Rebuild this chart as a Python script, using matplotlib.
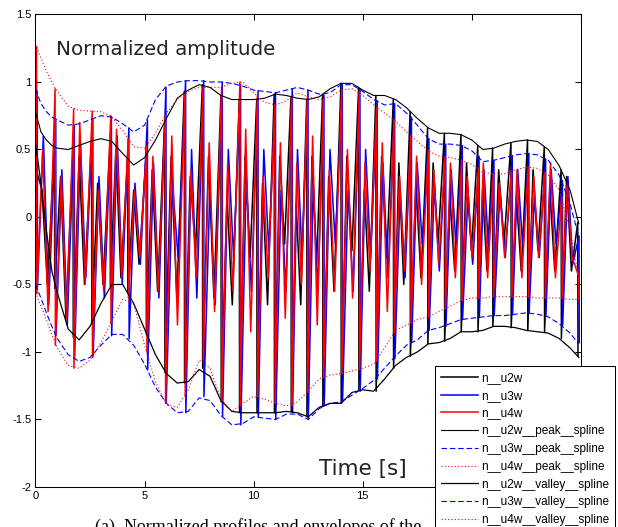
import matplotlib

matplotlib.use("Agg")
import matplotlib.pyplot as plt
from matplotlib.ticker import FixedFormatter

plt.rcParams["font.family"] = ["Liberation Sans", "DejaVu Sans"]
plt.rcParams["axes.unicode_minus"] = False

# time grid of the spline envelopes [s]
env_t = [
    0, 0.25, 0.5, 0.75, 1.0, 1.5, 2.0, 2.5, 3.0, 3.5, 4.0, 4.5, 5.0, 5.5,
    6.0, 6.5, 7.0, 7.5, 8.0, 8.5, 9.0, 9.5, 10.0, 10.5, 11.0, 11.5, 12.0,
    12.5, 13.0, 13.5, 14.0, 14.5, 15.0, 15.5, 16.0, 16.5, 17.0, 17.5, 18.0,
    18.5, 19.0, 19.5, 20.0, 20.5, 21.0, 21.5, 22.0, 22.5, 23.0, 23.5, 24.0,
    24.5, 24.9,
]

u2w_peak = [
    0.78, 0.63, 0.57, 0.53, 0.51, 0.50, 0.53, 0.56, 0.58, 0.56, 0.47, 0.385,
    0.44, 0.57, 0.73, 0.88, 0.94, 0.98, 0.96, 0.90, 0.87, 0.87, 0.87, 0.88,
    0.91, 0.90, 0.88, 0.87, 0.89, 0.95, 0.99, 0.99, 0.94, 0.90, 0.90, 0.87,
    0.81, 0.73, 0.66, 0.62, 0.62, 0.61, 0.57, 0.50, 0.51, 0.54, 0.56, 0.57,
    0.56, 0.50, 0.38, 0.20, -0.05,
]
u3w_peak = [
    0.95, 0.84, 0.78, 0.74, 0.72, 0.68, 0.69, 0.72, 0.75, 0.74, 0.69, 0.63,
    0.68, 0.87, 0.97, 1.00, 1.01, 1.01, 1.00, 1.00, 0.99, 0.97, 0.94, 0.93,
    0.92, 0.94, 0.96, 0.94, 0.91, 0.92, 0.98, 0.98, 0.93, 0.87, 0.83, 0.84,
    0.77, 0.68, 0.58, 0.54, 0.54, 0.53, 0.49, 0.41, 0.42, 0.44, 0.46, 0.47,
    0.46, 0.42, 0.31, 0.10, -0.15,
]
u4w_peak = [
    1.28, 1.18, 1.08, 1.00, 0.93, 0.82, 0.79, 0.785, 0.78, 0.74, 0.64, 0.52,
    0.51, 0.62, 0.77, 0.87, 0.93, 0.96, 0.96, 0.96, 0.99, 1.00, 0.92, 0.85,
    0.83, 0.86, 0.92, 0.89, 0.87, 0.89, 0.94, 0.95, 0.90, 0.83, 0.77, 0.71,
    0.63, 0.56, 0.49, 0.45, 0.44, 0.42, 0.39, 0.33, 0.32, 0.32, 0.35, 0.37,
    0.36, 0.31, 0.20, -0.10, -0.45,
]
u2w_valley = [
    0.55, 0.25, -0.10, -0.40, -0.56, -0.83, -0.91, -0.81, -0.64, -0.50, -0.50,
    -0.64, -0.83, -1.02, -1.16, -1.23, -1.22, -1.13, -1.18, -1.36, -1.44,
    -1.45, -1.45, -1.45, -1.45, -1.44, -1.45, -1.48, -1.41, -1.38, -1.38,
    -1.30, -1.28, -1.29, -1.20, -1.10, -1.04, -1.00, -0.94, -0.93, -0.90,
    -0.85, -0.85, -0.84, -0.81, -0.81, -0.82, -0.84, -0.85, -0.86, -0.90,
    -0.97, -1.04,
]
u3w_valley = [
    -0.50, -0.60, -0.71, -0.81, -0.90, -1.02, -1.07, -1.04, -0.95, -0.87,
    -0.87, -0.95, -1.09, -1.26, -1.38, -1.45, -1.44, -1.34, -1.36, -1.47,
    -1.54, -1.53, -1.48, -1.49, -1.50, -1.46, -1.46, -1.50, -1.42, -1.38,
    -1.37, -1.32, -1.27, -1.21, -1.12, -1.03, -0.95, -0.91, -0.84, -0.82,
    -0.79, -0.76, -0.75, -0.74, -0.73, -0.73, -0.72, -0.71, -0.72, -0.74,
    -0.79, -0.86, -0.94,
]
u4w_valley = [
    -0.56, -0.66, -0.76, -0.87, -0.97, -1.10, -1.12, -1.06, -0.93, -0.77,
    -0.61, -0.64, -0.95, -1.22, -1.39, -1.41, -1.28, -1.06, -1.12, -1.35,
    -1.44, -1.38, -1.33, -1.35, -1.38, -1.40, -1.37, -1.29, -1.20, -1.17,
    -1.16, -1.14, -1.12, -1.09, -0.97, -0.84, -0.80, -0.76, -0.74, -0.70,
    -0.66, -0.62, -0.60, -0.60, -0.59, -0.59, -0.59, -0.59, -0.60, -0.60,
    -0.60, -0.61, -0.61,
]

# times of the big oscillation spikes [s]
cycle_t = [
    0.05, 0.9, 1.75, 2.6, 3.45, 4.25, 5.1, 5.95, 6.85, 7.68, 8.53, 9.37,
    10.17, 10.97, 11.74, 12.46, 13.19, 14.03, 14.84, 15.63, 16.43, 17.2,
    18.0, 18.77, 19.53, 20.3, 20.98, 21.82, 22.58, 23.35, 24.12, 24.88,
]

# per cycle: top of spike, bottom of spike, inner high / low levels
u2w_top = [
    0.76, 0.52, 0.50, 0.57, 0.57, 0.43, 0.46, 0.71, 0.93, 0.98, 0.90, 0.87,
    0.87, 0.91, 0.89, 0.87, 0.91, 0.99, 0.96, 0.90, 0.87, 0.78, 0.66, 0.62,
    0.61, 0.53, 0.51, 0.55, 0.57, 0.52, 0.35, -0.04,
]
u2w_bottom = [
    0.35, -0.53, -0.89, -0.78, -0.51, -0.56, -0.87, -1.15, -1.23, -1.12,
    -1.37, -1.45, -1.45, -1.45, -1.44, -1.48, -1.40, -1.38, -1.28, -1.29,
    -1.12, -1.03, -0.94, -0.92, -0.85, -0.85, -0.81, -0.82, -0.84, -0.85,
    -0.90, -1.03,
]
u2w_hi = [
    0.20, 0.30, 0.45, 0.25, 0.50, 0.20, 0.35, 0.45, 0.30, 0.45, 0.15, 0.45,
    0.25, 0.45, 0.10, 0.45, 0.30, 0.45, 0.20, 0.45, 0.40, 0.25, 0.40, 0.15,
    0.40, 0.20, 0.35, 0.15, 0.35, 0.20, 0.30, 0.10,
]
u2w_lo = [
    -0.50, -0.75, -0.50, -0.50, -0.45, -0.35, -0.55, -0.60, -0.25, -0.60,
    -0.65, -0.30, -0.65, -0.20, -0.65, -0.35, -0.55, -0.25, -0.55, -0.30,
    -0.50, -0.45, -0.20, -0.40, -0.25, -0.40, -0.20, -0.40, -0.25, -0.40,
    -0.40, -0.50,
]

u3w_top = [
    0.93, 0.72, 0.68, 0.73, 0.745, 0.66, 0.72, 0.96, 1.01, 1.01, 1.00, 0.98,
    0.935, 0.92, 0.95, 0.94, 0.905, 0.98, 0.95, 0.86, 0.84, 0.74, 0.58, 0.54,
    0.53, 0.45, 0.42, 0.45, 0.47, 0.43, 0.27, -0.14,
]
u3w_bottom = [
    -0.52, -0.87, -1.05, -1.03, -0.88, -0.90, -1.13, -1.37, -1.45, -1.33,
    -1.48, -1.54, -1.48, -1.50, -1.45, -1.50, -1.40, -1.37, -1.29, -1.20,
    -1.05, -0.93, -0.84, -0.81, -0.76, -0.745, -0.73, -0.725, -0.71, -0.73,
    -0.80, -0.93,
]
u3w_hi = [
    0.60, 0.35, 0.55, 0.30, 0.60, 0.25, 0.40, 0.25, 0.50, 0.20, 0.50, 0.30,
    0.50, 0.20, 0.50, 0.25, 0.50, 0.20, 0.50, 0.40, 0.20, 0.40, 0.25, 0.35,
    0.15, 0.35, 0.20, 0.35, 0.15, 0.35, 0.30, 0.10,
]
u3w_lo = [
    -0.65, -0.80, -0.45, -0.60, -0.50, -0.35, -0.60, -0.30, -0.60, -0.65,
    -0.30, -0.55, -0.25, -0.55, -0.30, -0.55, -0.20, -0.55, -0.30, -0.45,
    -0.45, -0.20, -0.40, -0.20, -0.35, -0.20, -0.30, -0.20, -0.30, -0.20,
    -0.35, -0.45,
]

u4w_top = [
    1.26, 0.95, 0.80, 0.785, 0.75, 0.58, 0.52, 0.75, 0.92, 0.96, 0.96, 1.00,
    0.90, 0.83, 0.89, 0.89, 0.87, 0.94, 0.93, 0.81, 0.72, 0.60, 0.49, 0.445,
    0.42, 0.36, 0.32, 0.34, 0.37, 0.33, 0.15, -0.43,
]
u4w_bottom = [
    -0.57, -0.95, -1.12, -1.04, -0.79, -0.60, -1.00, -1.38, -1.32, -1.06,
    -1.36, -1.40, -1.33, -1.38, -1.40, -1.30, -1.19, -1.16, -1.13, -1.07,
    -0.86, -0.79, -0.74, -0.68, -0.62, -0.60, -0.59, -0.59, -0.59, -0.60,
    -0.60, -0.61,
]
u4w_hi = [
    0.50, 0.30, 0.70, 0.20, 0.65, 0.20, 0.45, 0.60, 0.35, 0.55, 0.40, 0.65,
    0.30, 0.55, 0.40, 0.60, 0.35, 0.50, 0.40, 0.55, 0.30, 0.45, 0.35, 0.40,
    0.30, 0.40, 0.25, 0.35, 0.30, 0.40, 0.25, 0.10,
]
u4w_lo = [
    -0.70, -0.75, -0.50, -0.55, -0.45, -0.30, -0.55, -0.80, -0.45, -0.70,
    -0.55, -0.85, -0.45, -0.75, -0.50, -0.80, -0.55, -0.60, -0.40, -0.70,
    -0.40, -0.50, -0.35, -0.45, -0.30, -0.45, -0.30, -0.45, -0.30, -0.45,
    -0.30, -0.40,
]

y_ticks = [-2, -1.5, -1, -0.5, 0, 0.5, 1, 1.5]
y_tick_labels = ["-2", "-1.5", "-1", "-0.5", "0", "0.5", "1", "1.5"]
x_ticks = [0, 5, 10, 15, 20, 25]
x_tick_labels = ["0", "5", "10", "15", "", ""]  # 20 and 25 sit under the legend

# where inside one cycle the inner high/low levels sit (fraction of cycle)
MID_FRACS = (0.33, 0.62)


def build_trace(top, bottom, hi, lo, shift):
    t, v = [], []
    n = len(cycle_t)
    for k in range(n):
        t0 = cycle_t[k] + shift
        t += [t0, t0 + 0.012]
        v += [top[k], bottom[k]]
        if k == n - 1:
            break
        span = cycle_t[k + 1] - cycle_t[k]
        for frac, val in zip(MID_FRACS, (hi[k], lo[k])):
            t.append(t0 + frac * span)
            v.append(val)
    return t, v


fig = plt.figure(figsize=(6.18, 5.27), dpi=100)
ax = fig.add_axes([0.0574, 0.0759, 0.8827, 0.8966])

t2, v2 = build_trace(u2w_top, u2w_bottom, u2w_hi, u2w_lo, -0.03)
t3, v3 = build_trace(u3w_top, u3w_bottom, u3w_hi, u3w_lo, 0.03)
t4, v4 = build_trace(u4w_top, u4w_bottom, u4w_hi, u4w_lo, 0.0)

ax.plot(t2, v2, color="black", lw=1.1, label="n__u2w")
ax.plot(t3, v3, color="blue", lw=1.1, label="n__u3w")
ax.plot(t4, v4, color="red", lw=1.1, label="n__u4w")

ax.plot(env_t, u2w_peak, color="black", lw=0.8, label="n__u2w__peak__spline")
ax.plot(env_t, u3w_peak, color="blue", lw=0.8, ls=(0, (5, 2.5)),
        label="n__u3w__peak__spline")
ax.plot(env_t, u4w_peak, color="red", lw=0.8, ls=(0, (1, 2)),
        label="n__u4w__peak__spline")
ax.plot(env_t, u2w_valley, color="black", lw=0.9,
        label="n__u2w__valley__spline")
ax.plot(env_t, u3w_valley, color="blue", lw=0.8, ls=(0, (5, 2.5)),
        label="n__u3w__valley__spline")
ax.plot(env_t, u4w_valley, color="red", lw=0.8, ls=(0, (1, 2)),
        label="n__u4w__valley__spline")

ax.set_xlim(0, 25)
ax.set_ylim(-2, 1.5)
ax.set_xticks(x_ticks)
ax.set_yticks(y_ticks)
ax.xaxis.set_major_formatter(FixedFormatter(x_tick_labels))
ax.yaxis.set_major_formatter(FixedFormatter(y_tick_labels))
ax.tick_params(direction="in", top=True, right=True, length=4, width=0.75,
               labelsize=8, pad=3)
for spine in ax.spines.values():
    spine.set_linewidth(0.75)

ax.text(0.94, 1.2, "Normalized amplitude", fontsize=14.3, family="DejaVu Sans",
        color="#222222")
ax.text(13.0, -1.91, "Time [s]", fontsize=15.5, family="DejaVu Sans",
        color="#222222")

leg = fig.legend(
    loc="upper left",
    bbox_to_anchor=(0.7039, 0.3055),
    bbox_transform=fig.transFigure,
    borderaxespad=0,
    fontsize=8.5,
    labelspacing=0.49,
    handlelength=3.1,
    handletextpad=0.3,
    borderpad=0.5,
    fancybox=False,
    framealpha=1,
    edgecolor="black",
)
leg.get_frame().set_linewidth(0.75)

# figure caption below the plot, only its top edge is inside the picture
fig.text(95 / 618, 1 - 518 / 527,
         "(a)  Normalized profiles and envelopes of the",
         family="Liberation Serif", fontsize=13, va="top")

fig.savefig("out.png", dpi=100)
